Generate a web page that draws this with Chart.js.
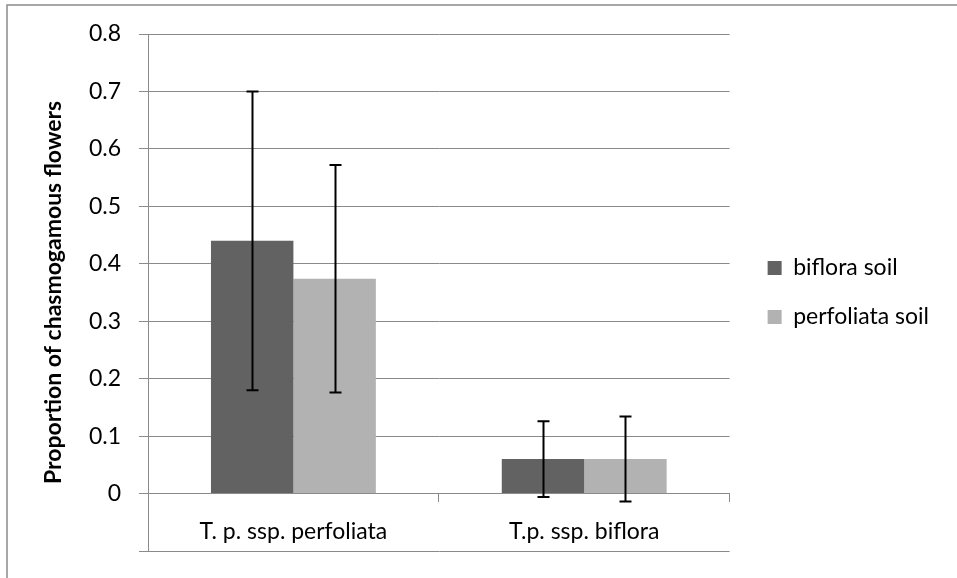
<!DOCTYPE html>
<html>
<head>
<meta charset="utf-8">
<script src="https://cdn.jsdelivr.net/npm/chart.js@4/dist/chart.umd.min.js"></script>
<style>
  html, body { margin: 0; padding: 0; background: #fff; }
  #wrap { width: 957px; height: 578px; }
</style>
</head>
<body>
<div id="wrap"><canvas id="cf" width="957" height="578"></canvas></div>
<script>
// chasmogamous flower proportions by subspecies and soil type
const categories = ['T. p. ssp. perfoliata', 'T.p. ssp. biflora'];
const seriesNames = ['biflora soil', 'perfoliata soil'];
const bifloraSoil = [0.44, 0.06];
const perfoliataSoil = [0.374, 0.06];
const bifloraErr = [0.26, 0.066];
const perfoliataErr = [0.198, 0.074];

const FONT = "Lato, 'Open Sans', sans-serif";
const AXIS_GREY = '#8a8a8a';

// symmetric error whiskers, read through the y scale
const errorBars = {
  id: 'errorBars',
  afterDatasetsDraw(chart) {
    const { ctx, scales: { y } } = chart;
    const errs = [bifloraErr, perfoliataErr];
    ctx.save();
    ctx.strokeStyle = '#000';
    ctx.lineWidth = 2;
    chart.data.datasets.forEach((ds, i) => {
      chart.getDatasetMeta(i).data.forEach((bar, j) => {
        const v = ds.data[j], e = errs[i][j];
        const x = Math.round(bar.x) + 0.5;
        const yHi = y.getPixelForValue(v + e);
        const yLo = y.getPixelForValue(v - e);
        ctx.beginPath();
        ctx.moveTo(x, yHi); ctx.lineTo(x, yLo);
        ctx.moveTo(x - 6, yHi); ctx.lineTo(x + 6, yHi);
        ctx.moveTo(x - 6, yLo); ctx.lineTo(x + 6, yLo);
        ctx.stroke();
      });
    });
    ctx.restore();
  }
};

// outer chart frame
const frame = {
  id: 'frame',
  beforeDraw(chart) {
    const { ctx } = chart;
    ctx.save();
    ctx.strokeStyle = AXIS_GREY;
    ctx.lineWidth = 1.5;
    ctx.strokeRect(7, 5, 1000, 1000);
    ctx.restore();
  }
};

// push the legend a little away from the plot
const legendNudge = {
  id: 'legendNudge',
  afterLayout(chart) {
    const lg = chart.legend;
    if (lg) { lg.left += 12; lg.right += 12; }
  }
};

new Chart(document.getElementById('cf').getContext('2d'), {
  type: 'bar',
  data: {
    labels: categories,
    datasets: [
      { label: seriesNames[0], data: bifloraSoil, backgroundColor: '#626262' },
      { label: seriesNames[1], data: perfoliataSoil, backgroundColor: '#b2b2b2' }
    ]
  },
  options: {
    responsive: false,
    devicePixelRatio: 1,
    animation: false,
    layout: { padding: { left: 36, top: 34, bottom: 27, right: 30 } },
    datasets: { bar: { categoryPercentage: 0.567, barPercentage: 1 } },
    plugins: {
      tooltip: { enabled: false },
      legend: {
        position: 'right',
        labels: {
          color: '#000',
          font: { family: FONT, size: 23 },
          boxWidth: 14, boxHeight: 14,
          padding: 26
        }
      }
    },
    scales: {
      x: {
        position: { y: 0 },
        grid: { display: true, drawOnChartArea: false, drawTicks: true, tickLength: 8, offset: true, color: AXIS_GREY },
        border: { display: true, color: AXIS_GREY },
        ticks: { color: '#000', font: { family: FONT, size: 23 }, padding: 16 }
      },
      y: {
        min: -0.1, max: 0.8,
        afterFit(scale) {
          scale.width = 112;
          // labels sit inside the fixed layout padding
          scale.paddingTop = 0;
          scale.paddingBottom = 0;
        },
        grid: { color: AXIS_GREY, tickLength: 9 },
        border: { color: AXIS_GREY },
        ticks: {
          stepSize: 0.1,
          color: '#000',
          padding: 18,
          font: { family: FONT, size: 23 },
          callback: v => v < -0.001 ? '' : String(Math.round(v * 10) / 10)
        },
        title: {
          display: true,
          text: 'Proportion of chasmogamous flowers',
          color: '#000',
          font: { family: FONT, size: 23, weight: 'bold' }
        }
      }
    }
  },
  plugins: [frame, errorBars, legendNudge]
});
</script>
</body>
</html>
